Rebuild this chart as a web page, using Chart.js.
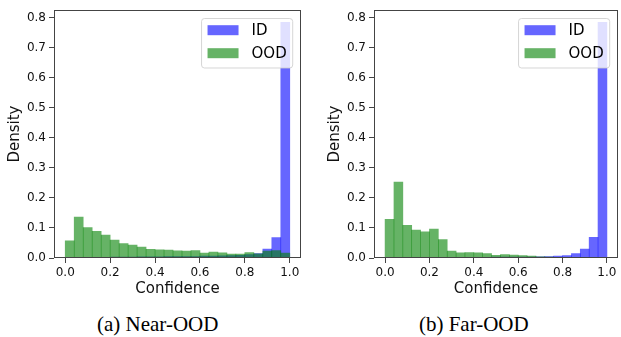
<!DOCTYPE html>
<html>
<head>
<meta charset="utf-8">
<script src="https://cdn.jsdelivr.net/npm/chart.js@4.4.1/dist/chart.umd.min.js"></script>
<style>
  body { margin: 0; background: #fff; width: 621px; height: 337px; position: relative; overflow: hidden; }
  canvas { position: absolute; top: 0; }
  .cap { position: absolute; top: 312px; line-height: 24px; font-family: "Liberation Serif", "Times New Roman", serif;
         font-size: 21px; color: #000; white-space: nowrap; transform: translateX(-50%); }
</style>
</head>
<body>
<canvas id="nearChart" width="310" height="300" style="left:0"></canvas>
<canvas id="farChart" width="301" height="300" style="left:320px"></canvas>
<div class="cap" style="left:157.7px">(a) Near-OOD</div>
<div class="cap" style="left:473.8px">(b) Far-OOD</div>

<script>
// DATA
const binCenters = [0.02, 0.06, 0.10, 0.14, 0.18, 0.22, 0.26, 0.30, 0.34, 0.38, 0.42, 0.46, 0.50,
                    0.54, 0.58, 0.62, 0.66, 0.70, 0.74, 0.78, 0.82, 0.86, 0.90, 0.94, 0.98];

const nearId  = [0.001, 0.001, 0.002, 0.002, 0.002, 0.003, 0.003, 0.003, 0.004, 0.004, 0.004, 0.005, 0.005,
                 0.005, 0.005, 0.006, 0.006, 0.007, 0.008, 0.009, 0.011, 0.015, 0.030, 0.068, 0.785];
const nearOod = [0.057, 0.136, 0.101, 0.089, 0.076, 0.060, 0.048, 0.043, 0.036, 0.029, 0.027, 0.026, 0.024,
                 0.023, 0.025, 0.016, 0.020, 0.017, 0.013, 0.013, 0.018, 0.014, 0.023, 0.025, 0.016];

const farId   = [0.001, 0.001, 0.001, 0.001, 0.001, 0.001, 0.002, 0.002, 0.002, 0.002, 0.002, 0.002, 0.003,
                 0.003, 0.003, 0.003, 0.003, 0.004, 0.005, 0.006, 0.008, 0.015, 0.030, 0.069, 0.785];
const farOod  = [0.129, 0.253, 0.109, 0.093, 0.087, 0.096, 0.061, 0.023, 0.017, 0.018, 0.017, 0.015, 0.009,
                 0.011, 0.010, 0.008, 0.006, 0.004, 0.003, 0.002, 0.002, 0.001, 0.001, 0.001, 0.001];

const xTicks = [0.0, 0.2, 0.4, 0.6, 0.8, 1.0];
const yTicks = [0.0, 0.1, 0.2, 0.3, 0.4, 0.5, 0.6, 0.7, 0.8];

const ID_COLOR = "rgba(0,0,255,0.6)";
const OOD_COLOR = "rgba(0,128,0,0.6)";
const AXIS_COLOR = "#444";

Chart.defaults.font.family = "'DejaVu Sans', sans-serif";
Chart.defaults.color = "#111";

// legend drawn inside the plot, matplotlib style + full frame
const insideLegend = {
    id: "insideLegend",
    afterDatasetsDraw(chart) {
        const { ctx, chartArea } = chart;
        const sets = chart.data.datasets;
        ctx.save();
        ctx.font = "15px 'DejaVu Sans'";
        const textW = Math.max(...sets.map(d => ctx.measureText(d.label).width));
        const w = 50 + textW + 6, h = 49.5;
        const x = chartArea.right - 8.3 - w, y = chartArea.top + 8.3;
        const r = 3;
        ctx.beginPath();
        ctx.moveTo(x + r, y);
        ctx.arcTo(x + w, y, x + w, y + h, r);
        ctx.arcTo(x + w, y + h, x, y + h, r);
        ctx.arcTo(x, y + h, x, y, r);
        ctx.arcTo(x, y, x + w, y, r);
        ctx.closePath();
        ctx.fillStyle = "rgba(255,255,255,0.8)";
        ctx.fill();
        ctx.strokeStyle = "rgba(204,204,204,0.8)";
        ctx.lineWidth = 1;
        ctx.stroke();
        sets.forEach((d, i) => {
            const cy = y + 11.7 + i * 23;
            ctx.fillStyle = d.backgroundColor;
            ctx.fillRect(x + 6, cy - 5, 31, 10);
            ctx.fillStyle = "#000";
            ctx.textBaseline = "middle";
            ctx.fillText(d.label, x + 50, cy + 1);
        });
        ctx.restore();
    },
    afterDraw(chart) {
        const { ctx, chartArea: a } = chart;
        ctx.save();
        ctx.strokeStyle = AXIS_COLOR;
        ctx.lineWidth = 1;
        const l = Math.round(a.left) + 0.5, t = Math.round(a.top) + 0.5;
        const rr = Math.round(a.right) - 0.5, b = Math.round(a.bottom) - 0.5;
        ctx.strokeRect(l, t, rr - l, b - t);
        ctx.restore();
    }
};

function makeChart(id, idVals, oodVals, padRight) {
    new Chart(document.getElementById(id), {
        type: "bar",
        data: {
            datasets: [
                { label: "ID", data: idVals.map((v, i) => ({ x: binCenters[i], y: v })),
                  backgroundColor: ID_COLOR, borderWidth: 0, order: 2 },
                { label: "OOD", data: oodVals.map((v, i) => ({ x: binCenters[i], y: v })),
                  backgroundColor: OOD_COLOR, borderWidth: 0, order: 1 }
            ]
        },
        options: {
            responsive: false,
            animation: false,
            events: [],
            layout: { padding: { top: 4, right: padRight, left: 0, bottom: 0 } },
            datasets: { bar: { grouped: false, barPercentage: 1, categoryPercentage: 1 } },
            plugins: { legend: { display: false }, tooltip: { enabled: false } },
            scales: {
                x: {
                    type: "linear",
                    offset: false,
                    min: -0.05,
                    max: 1.05,
                    afterBuildTicks: s => { s.ticks = xTicks.map(v => ({ value: v })); },
                    afterFit: s => { s.height = 42; },
                    border: { display: false },
                    grid: { offset: false, drawOnChartArea: false, drawTicks: true, tickLength: 5, color: AXIS_COLOR },
                    ticks: { font: { size: 12 }, padding: 3, autoSkip: false, maxRotation: 0,
                             callback: v => v.toFixed(1) },
                    title: { display: true, text: "Confidence", font: { size: 15 }, padding: { bottom: 2, top: 0 } }
                },
                y: {
                    min: 0,
                    max: 0.825,
                    afterBuildTicks: s => { s.ticks = yTicks.map(v => ({ value: v })); },
                    afterFit: s => { s.width = 54; },
                    border: { display: false },
                    grid: { drawOnChartArea: false, drawTicks: true, tickLength: 5, color: AXIS_COLOR },
                    ticks: { font: { size: 12 }, padding: 3, callback: v => v.toFixed(1) },
                    title: { display: true, text: "Density", font: { size: 15 }, padding: { top: 6, bottom: 0 } }
                }
            }
        },
        plugins: [insideLegend]
    });
}

makeChart("nearChart", nearId, nearOod, 9);
makeChart("farChart", farId, farOod, 3);
</script>
</body>
</html>
